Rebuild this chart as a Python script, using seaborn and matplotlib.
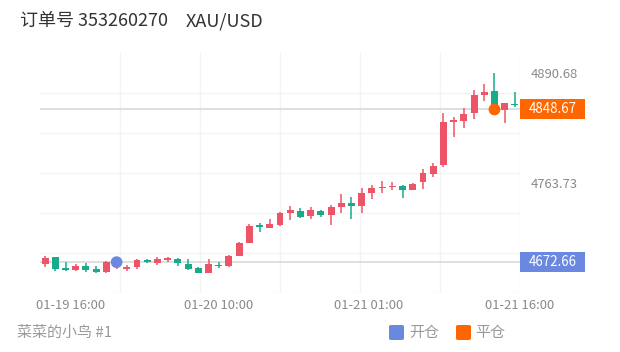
import matplotlib
matplotlib.use("Agg")
import numpy as np
import pandas as pd
import seaborn as sns
import matplotlib.pyplot as plt
import matplotlib.transforms as mtransforms
from matplotlib.patches import Rectangle, FancyBboxPatch

# ---------------- data ----------------
opens = [4670.1, 4678.2, 4666.1, 4663.2, 4668.4, 4664.9, 4660.9, 4670.7, 4665.3, 4667.2,
         4675.0, 4671.9, 4675.9, 4676.5, 4670.7, 4666.1, 4660.3, 4669.5, 4668.4, 4679.9,
         4694.5, 4715.0, 4711.8, 4715.6, 4729.1, 4732.1, 4726.0, 4732.1, 4727.1, 4736.0,
         4741.3, 4737.5, 4752.1, 4758.2, 4759.4, 4760.5, 4755.9, 4765.5, 4774.4, 4784.2,
         4835.1, 4835.4, 4844.3, 4865.4, 4870.0, 4848.1, 4855.0]
closes = [4678.0, 4664.7, 4663.6, 4668.4, 4663.8, 4660.9, 4672.4, 4674.2, 4666.4, 4674.7,
          4672.7, 4676.1, 4676.7, 4671.3, 4664.9, 4660.7, 4670.1, 4668.7, 4679.9, 4695.2,
          4714.5, 4712.7, 4716.6, 4729.8, 4732.9, 4725.2, 4732.9, 4727.1, 4736.7, 4740.6,
          4737.5, 4752.8, 4757.9, 4759.0, 4760.2, 4755.9, 4762.9, 4775.9, 4783.6, 4834.6,
          4835.8, 4843.1, 4865.4, 4869.2, 4849.6, 4855.8, 4854.2]
highs = [4679.3, 4679.0, 4673.3, 4671.1, 4671.5, 4667.8, 4674.2, 4677.0, 4669.2, 4676.5,
         4675.9, 4678.8, 4679.1, 4677.6, 4676.1, 4667.6, 4676.1, 4673.3, 4680.5, 4696.4,
         4716.8, 4717.4, 4722.2, 4731.0, 4737.5, 4734.9, 4736.0, 4732.9, 4738.7, 4751.3,
         4748.2, 4757.9, 4761.7, 4766.3, 4765.5, 4761.1, 4764.3, 4779.8, 4787.4, 4844.3,
         4840.4, 4850.0, 4871.1, 4877.7, 4890.68, 4856.5, 4868.5]
lows = [4667.2, 4662.1, 4662.6, 4662.6, 4661.8, 4659.8, 4660.3, 4664.9, 4662.3, 4664.9,
        4671.9, 4669.5, 4673.3, 4668.0, 4663.8, 4660.3, 4659.8, 4665.7, 4667.2, 4679.3,
        4694.3, 4707.6, 4711.6, 4714.5, 4721.4, 4723.3, 4722.2, 4725.2, 4715.6, 4729.1,
        4722.2, 4729.1, 4745.6, 4752.8, 4755.9, 4747.1, 4755.4, 4756.7, 4771.3, 4782.8,
        4817.3, 4827.0, 4837.7, 4858.5, 4845.0, 4832.8, 4851.9]

x_tick_pos = [2.54, 17.03, 31.7, 46.5]
x_tick_labels = ["01-19 16:00", "01-20 10:00", "01-21 01:00", "01-21 16:00"]
y_tick_values = [4890.68, 4763.73]
y_min, y_max = 4636.78, 4913.4

open_idx, open_price = 7, 4672.66
close_idx, close_price = 44, 4848.67

title_order = "订单号 353260270"
title_symbol = "XAU/USD"
footer = "菜菜的小鸟 #1"
legend_labels = ["开仓", "平仓"]

RED = "#ec5468"
GREEN = "#17ab8b"
BLUE = "#6a88e0"
ORANGE = "#ff6600"

# ---------------- style ----------------
sns.set_theme(style="white")
plt.rcParams["font.family"] = ["Noto Sans CJK SC", "DejaVu Sans"]

W, H = 620, 352
fig = plt.figure(figsize=(W / 100, H / 100), dpi=100)
ax_l, ax_r, ax_t, ax_b = 40, 520, 53.3, 293.3
ax = fig.add_axes([ax_l / W, (H - ax_b) / H, (ax_r - ax_l) / W, (ax_b - ax_t) / H])

n = len(opens)
df = pd.DataFrame({"idx": np.arange(n), "open": opens, "close": closes,
                   "high": highs, "low": lows})
up = df["close"] >= df["open"]
cols = np.where(up, RED, GREEN)

ax.set_xlim(-0.5, n - 0.5)
ax.set_ylim(y_min, y_max)

# grid
for k in range(1, 7):
    ax.axvline(-0.5 + k * n / 6, color="#f3f3f3", lw=1.0, zorder=0)
for k in range(0, 6):
    ax.axhline(y_min + k * (y_max - y_min) / 6, color="#f3f3f3", lw=1.0, zorder=0)

# reference lines
ax.axhline(close_price, color="#dcdcdc", lw=1.3, zorder=1)
ax.axhline(open_price, color="#dcdcdc", lw=1.3, zorder=1)

# candles
ax.vlines(df["idx"], df["low"], df["high"], colors=cols, lw=1.1, zorder=3)
mid = (df["open"] + df["close"]) / 2
hgt = np.maximum((df["close"] - df["open"]).abs(), 1.6)
ax.bar(df["idx"], hgt, bottom=mid - hgt / 2, width=0.68, color=cols,
       linewidth=0, zorder=4)

# open/close markers
marks = pd.DataFrame({"idx": [open_idx, close_idx], "price": [open_price, close_price],
                      "kind": legend_labels})
sns.scatterplot(data=marks, x="idx", y="price", hue="kind",
                palette={legend_labels[0]: BLUE, legend_labels[1]: ORANGE},
                s=72, edgecolor="none", legend=False, zorder=6, ax=ax)
ax.set_xlabel("")
ax.set_ylabel("")

for s in ax.spines.values():
    s.set_visible(False)

ax.yaxis.tick_right()
ax.set_yticks(y_tick_values)
ax.set_yticklabels([f"{v:.2f}" for v in y_tick_values])
ax.tick_params(axis="y", length=0, pad=7.5, labelsize=9.4, labelcolor="#8a8a8a")
ax.set_xticks(x_tick_pos)
ax.set_xticklabels(x_tick_labels)
ax.tick_params(axis="x", length=0, pad=4.0, labelsize=9.4, labelcolor="#8a8a8a")

# price boxes
blend = mtransforms.blended_transform_factory(ax.transAxes, ax.transData)
box_w = 65 / (ax_r - ax_l)
px_per_unit = (ax_b - ax_t) / (y_max - y_min)
box_h = 20 / px_per_unit
for price, colr in [(close_price, ORANGE), (open_price, BLUE)]:
    ax.add_patch(Rectangle((1.0, price - box_h / 2), box_w, box_h, transform=blend,
                           clip_on=False, fc=colr, ec="none", zorder=7))
    ax.text(1.0 + box_w / 2, price, f"{price:.2f}", transform=blend, ha="center",
            va="center", color="white", fontsize=9.6, zorder=8, clip_on=False)

# header
fig.text(20 / W, 1 - 21 / H, title_order, fontsize=13, color="#333333", va="center")
fig.text(186 / W, 1 - 21 / H, title_symbol, fontsize=13, color="#333333", va="center")

# footer
fig.text(17 / W, 1 - 333 / H, footer, fontsize=10.8, color="#9a9a9a", va="center")
for (x0, colr, lab, tx) in [(389, BLUE, legend_labels[0], 409), (456, ORANGE, legend_labels[1], 475)]:
    fig.patches.append(FancyBboxPatch((x0 / W, 1 - 340 / H), 15 / W, 15 / H,
                                      boxstyle="round,pad=0,rounding_size=0.004",
                                      transform=fig.transFigure, fc=colr, ec="none"))
    fig.text(tx / W, 1 - 333 / H, lab, fontsize=10.8, color="#9a9a9a", va="center")

fig.savefig("out.png", dpi=100)
